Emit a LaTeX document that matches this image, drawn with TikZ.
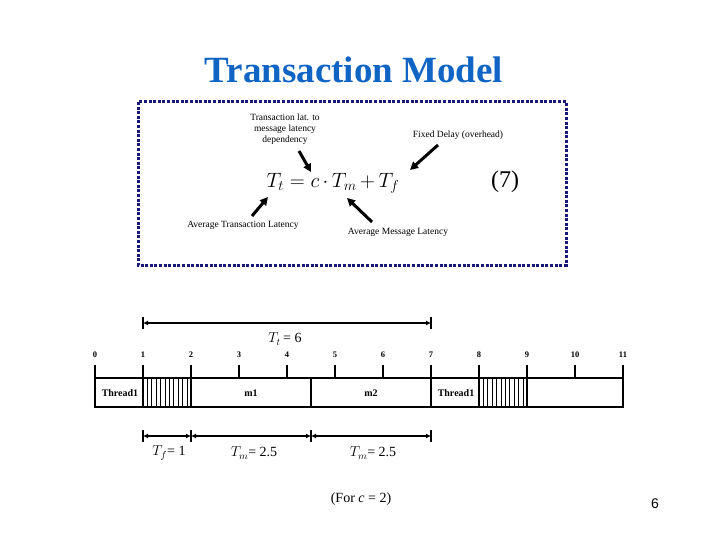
\documentclass[tikz,border=0pt]{standalone}
\usepackage{fontspec}
\setmainfont{Liberation Serif}
\newfontfamily\pagefont{Liberation Sans}
\usetikzlibrary{arrows.meta}
\definecolor{titleblue}{RGB}{16,100,196}
\definecolor{boxnavy}{RGB}{24,24,120}
\begin{document}
\begin{tikzpicture}[x=1pt,y=-1pt,
  note/.style={font=\fontsize{9.5}{11}\selectfont, align=center, inner sep=0pt},
  tnum/.style={font=\fontsize{8.5}{9}\selectfont\bfseries, inner sep=0pt},
  seglabel/.style={font=\fontsize{10}{11}\selectfont\bfseries, inner sep=0pt},
  pointer/.style={line width=3pt, -{Triangle[length=8pt,width=8pt]}},
  span/.style={line width=1.5pt, {Latex[length=5pt,width=5pt]}-{Latex[length=5pt,width=5pt]}},
  endbar/.style={line width=1.5pt},
  barline/.style={line width=2.5pt},
  tick/.style={line width=2pt},
  hatch/.style={line width=0.8pt},
  lbl/.style={font=\fontsize{14}{16}\selectfont, inner sep=0pt}
]
\useasboundingbox (0,0) rectangle (720,540);
% title
\node[font=\fontsize{37}{42}\selectfont\bfseries, text=titleblue] (title) at (354,70) {Transaction Model};
% dotted box
\draw[boxnavy, line width=3pt, dash pattern=on 3pt off 1.6pt] (138,102) rectangle (566,265);
% equation
\node[font=\fontsize{22}{27}\selectfont, inner sep=0pt] (eq) at (333,183) {$\medmuskip=3mu T_{t} = c\cdot T_{m} + T_{f}$};
\node[font=\fontsize{24}{28}\selectfont, inner sep=0pt] (eqno) at (505,182) {(7)};
% annotations
\node[note] (ndep) at (285,129) {Transaction lat. to\\message latency\\dependency};
\node[note] (nfix) at (458,135) {Fixed Delay (overhead)};
\node[note] (navt) at (243,225) {Average Transaction Latency};
\node[note] (navm) at (398,232) {Average Message Latency};
\coordinate (a1s) at (299,151); \coordinate (a1e) at (311,172);
\coordinate (a2s) at (438,145); \coordinate (a2e) at (410,170);
\coordinate (a3s) at (252,216); \coordinate (a3e) at (268,197);
\coordinate (a4s) at (372,222); \coordinate (a4e) at (347,198);
\draw[pointer] (a1s) -- (a1e);
\draw[pointer] (a2s) -- (a2e);
\draw[pointer] (a3s) -- (a3e);
\draw[pointer] (a4s) -- (a4e);
% Tt span
\coordinate (t1) at (143,323); \coordinate (t7) at (431,323);
\draw[span] (t1) -- (t7);
\draw[endbar] ([yshift=-6pt]t1) -- ([yshift=6pt]t1);
\draw[endbar] ([yshift=-6pt]t7) -- ([yshift=6pt]t7);
\node[lbl] (ttlab) at (285,339) {$T_{t}$\,= 6};
% ticks and numbers
\foreach \i in {0,...,11} {
  \node[tnum] (n\i) at (95+48*\i,355) {\i};
  \draw[tick] (95+48*\i,365) -- (95+48*\i,378);
}
% bar
\draw[barline] (95,378) rectangle (623,407);
\foreach \x in {143,191,311,431,479,527} {\draw[barline] (\x,378) -- (\x,407);}
\foreach \k in {1,...,10} {
  \draw[hatch] (143+4.4*\k,378) -- (143+4.4*\k,407);
  \draw[hatch] (479+4.4*\k,378) -- (479+4.4*\k,407);
}
\node[seglabel] (th1) at (120,393) {Thread1};
\node[seglabel] (m1) at (251,393) {m1};
\node[seglabel] (m2) at (371,393) {m2};
\node[seglabel] (th2) at (456,393) {Thread1};
% bottom spans
\coordinate (b1) at (143,436); \coordinate (b2) at (191,436);
\coordinate (b3) at (311,436); \coordinate (b4) at (431,436);
\draw[span] (b1) -- (b2);
\draw[span] (b2) -- (b3);
\draw[span] (b3) -- (b4);
\foreach \c in {b1,b2,b3,b4} {\draw[endbar] ([yshift=-6pt]\c) -- ([yshift=6pt]\c);}
\node[lbl] (tflab) at (169,453) {$T_{f}$= 1};
\node[lbl] (tm1lab) at (254,453) {$T_{m}$= 2.5};
\node[lbl] (tm2lab) at (373,453) {$T_{m}$= 2.5};
\node[lbl] (forc) at (361,499) {(For \textit{c} = 2)};
\node[font=\fontsize{14}{16}\selectfont\pagefont, inner sep=0pt] (pg) at (655,504) {6};
\end{tikzpicture}
\end{document}
